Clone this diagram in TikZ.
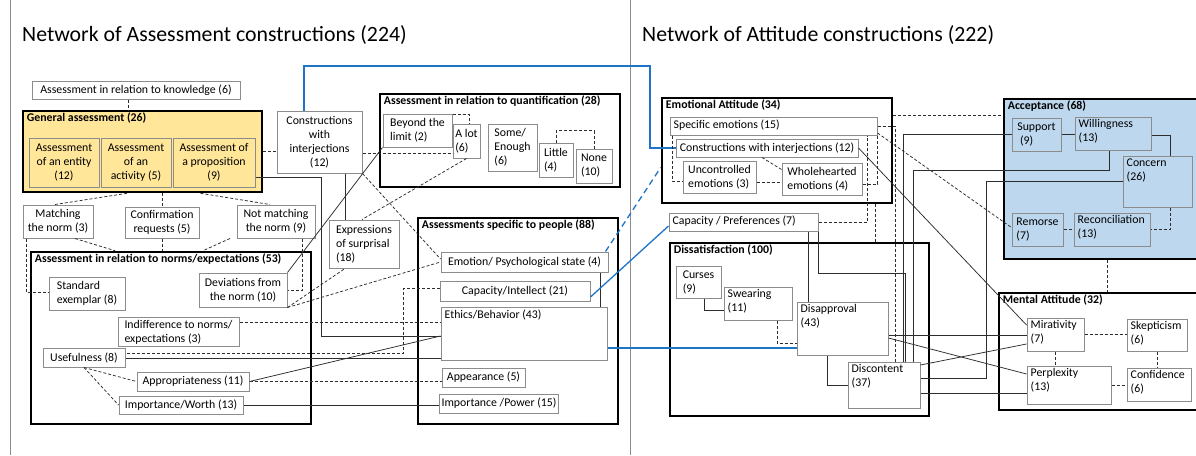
\documentclass[tikz,border=0pt]{standalone}
\usepackage{fontspec}
\setmainfont{Carlito}
\definecolor{boxgray}{RGB}{140,140,140}
\definecolor{lngray}{RGB}{45,45,45}
\definecolor{gold}{RGB}{255,230,153}
\definecolor{skyfill}{RGB}{189,215,238}
\definecolor{linkblue}{RGB}{30,117,200}
\newcommand\bxfont{\fontsize{11.8}{14}\selectfont}
\newcommand\ttlfont{\fontsize{21.8}{24}\selectfont}
\tikzset{
  bx/.style={draw=boxgray, line width=1pt, inner sep=2pt, align=center, font=\bxfont},
  lbx/.style={bx, align=left},
  grp/.style={draw=black, line width=2.6pt},
  tl/.style={label={[anchor=north west, inner xsep=4pt, inner ysep=3pt, align=left, font=\bxfont]north west:#1}},
  ttl/.style={label={[anchor=north west, inner xsep=5pt, inner ysep=3pt, font=\bxfont\bfseries]north west:#1}},
  dsh/.style={draw=lngray, line width=0.75pt, dash pattern=on 3pt off 2pt},
  sld/.style={draw=lngray, line width=0.75pt},
  blu/.style={draw=linkblue, line width=1.3pt},
  bludsh/.style={blu, dash pattern=on 6pt off 4pt},
}
\begin{document}
\begin{tikzpicture}[x=1pt,y=-1pt]
\clip (0,0) rectangle (1196,455);
\fill[white] (0,0) rectangle (1196,455);
\draw[boxgray, line width=1pt] (10,0) -- (10,455);
\draw[boxgray, line width=1pt] (630,0) -- (630,455);
\node[anchor=base west, inner sep=0pt, font=\ttlfont] (ttlA) at (22,41) {Network of Assessment constructions (224)};
\node[anchor=base west, inner sep=0pt, font=\ttlfont] (ttlB) at (642,41) {Network of Attitude constructions (222)};

% assessment side
\node[bx, minimum width=208, minimum height=18] (know) at (136,90) {Assessment in relation to knowledge (6)};
\node[grp, fill=gold, minimum width=239, minimum height=81, ttl={General assessment (26)}] (ga) at (142.5,151.5) {};
\node[bx, fill=gold, minimum width=70, minimum height=49] (ent) at (64,162.5) {Assessment\\of an entity\\(12)};
\node[bx, fill=gold, minimum width=70, minimum height=49] (act) at (136,162.5) {Assessment\\of an\\activity (5)};
\node[bx, fill=gold, minimum width=82, minimum height=49] (prop) at (214,162.5) {Assessment of\\a proposition\\(9)};
\node[bx, minimum width=85, minimum height=62] (cwi) at (319.5,142) {Constructions\\with\\interjections\\(12)};

\node[grp, minimum width=240, minimum height=93, ttl={Assessment in relation to quantification (28)}] (quant) at (500,140.5) {};
\node[lbx, minimum width=69, minimum height=33] (beyond) at (417.5,130.5) {Beyond the\\limit (2)};
\node[lbx, minimum width=27, minimum height=34] (alot) at (466.5,141) {A lot\\(6)};
\node[lbx, minimum width=49, minimum height=47] (some) at (512.5,147.5) {Some/\\Enough\\(6)};
\node[lbx, minimum width=34, minimum height=34] (little) at (556,160) {Little\\(4)};
\node[lbx, minimum width=36, minimum height=34] (none) at (594,166) {None\\(10)};

\node[bx, minimum width=70, minimum height=33] (match) at (58,221.5) {Matching\\the norm (3)};
\node[bx, minimum width=74, minimum height=31] (conf) at (162,222.5) {Confirmation\\requests (5)};
\node[bx, minimum width=78, minimum height=33] (notm) at (276,221.5) {Not matching\\the norm (9)};

\node[grp, minimum width=280, minimum height=172, ttl={Assessment in relation to norms/expectations (53)}] (norms) at (171,338) {};
\node[lbx, minimum width=76, minimum height=33] (std) at (87,293.5) {Standard\\exemplar (8)};
\node[bx, minimum width=88, minimum height=34] (dev) at (243,290) {Deviations from\\the norm (10)};
\node[lbx, minimum width=70, minimum height=48] (expr) at (364,244) {Expressions\\of surprisal\\(18)};
\node[lbx, minimum width=121, minimum height=28] (indiff) at (178.5,332) {Indifference to norms/\\expectations (3)};
\node[bx, minimum width=82, minimum height=19] (useful) at (84,357.5) {Usefulness (8)};
\node[bx, minimum width=112, minimum height=19] (approp) at (193,381.5) {Appropriateness (11)};
\node[bx, minimum width=124, minimum height=18] (impw) at (181,405) {Importance/Worth (13)};

\node[grp, minimum width=200, minimum height=206, ttl={Assessments specific to people (88)}] (asp) at (518,321) {};
\node[bx, minimum width=167, minimum height=20] (emo) at (524.5,262) {Emotion/ Psychological state (4)};
\node[bx, minimum width=150, minimum height=20] (capi) at (515,291) {Capacity/Intellect (21)};
\node[bx, minimum width=166, minimum height=53, tl={Ethics/Behavior (43)}] (eth) at (524,333.5) {};
\node[bx, minimum width=83, minimum height=19] (appear) at (483.5,377.5) {Appearance (5)};
\node[bx, minimum width=118, minimum height=19] (impp) at (499,403.5) {Importance /Power (15)};

% attitude side
\node[grp, minimum width=230, minimum height=105, ttl={Emotional Attitude (34)}] (ea) at (777,150.5) {};
\node[bx, minimum width=207, minimum height=18, tl={Specific emotions (15)}] (spec) at (773.5,126) {};
\node[bx, minimum width=182, minimum height=18] (cwi2) at (767,148) {Constructions with interjections (12)};
\node[lbx, minimum width=73, minimum height=32] (unc) at (719.5,177) {Uncontrolled\\emotions (3)};
\node[lbx, minimum width=80, minimum height=32] (whole) at (822,179) {Wholehearted\\emotions (4)};
\node[bx, minimum width=149, minimum height=18, tl={Capacity / Preferences (7)}] (capp) at (743.5,222) {};

\node[grp, fill=skyfill, minimum width=206, minimum height=160, ttl={Acceptance (68)}] (acc) at (1107,179) {};
\node[lbx, fill=skyfill, minimum width=49, minimum height=33] (sup) at (1036.5,134.5) {Support\\\ (9)};
\node[lbx, fill=skyfill, minimum width=76, minimum height=33, tl={Willingness\\(13)}] (will) at (1113,133.5) {};
\node[bx, fill=skyfill, minimum width=69, minimum height=51, tl={Concern\\(26)}] (conc) at (1157.5,181.5) {};
\node[lbx, fill=skyfill, minimum width=51, minimum height=33] (rem) at (1037.5,229.5) {Remorse\\(7)};
\node[bx, fill=skyfill, minimum width=76, minimum height=33, tl={Reconciliation\\(13)}] (rec) at (1112,229.5) {};

\node[grp, minimum width=259, minimum height=173, ttl={Dissatisfaction (100)}] (dis) at (799.5,329.5) {};
\node[lbx, minimum width=45, minimum height=32] (curs) at (698.5,282) {Curses\\(9)};
\node[bx, minimum width=68, minimum height=33, tl={Swearing\\(11)}] (swear) at (758,303.5) {};
\node[bx, minimum width=91, minimum height=53, tl={Disapproval\\(43)}] (disap) at (842.5,328.5) {};
\node[bx, minimum width=72, minimum height=46, tl={Discontent\\(37)}] (discon) at (884,385) {};

\node[grp, minimum width=211, minimum height=117, ttl={Mental Attitude (32)}] (ment) at (1104.5,351.5) {};
\node[bx, minimum width=57, minimum height=33, tl={Mirativity\\(7)}] (mir) at (1055.5,334.5) {};
\node[bx, minimum width=60, minimum height=32, tl={Skepticism\\(6)}] (skep) at (1157,335) {};
\node[bx, minimum width=84, minimum height=38, tl={Perplexity\\(13)}] (perp) at (1069,385) {};
\node[bx, minimum width=64, minimum height=33, tl={Confidence\\(6)}] (confi) at (1159,384.5) {};

% links on the assessment side
\draw[dsh] ([xshift=-8pt]know.south) -- ([xshift=-8pt]know.south |- ga.north);
\draw[dsh] (ga.east) -- (ga.east -| cwi.west);
\draw[dsh] ([yshift=-11pt]cwi.east) -- ([yshift=-11pt]cwi.east -| alot.west);
\draw[sld] ([yshift=-14.5pt]prop.east) -| ([xshift=-119pt,yshift=-2.5pt]eth.west) -- ([yshift=-2.5pt]eth.west);
\draw[sld] (beyond.south west) -- (dev.north east);
\draw[dsh] ([yshift=-1pt]beyond.north east) -| ([xshift=3pt]alot.north);
\draw[dsh] (little.north) -- ++(0,-12) -| (none.north);
\draw[dsh] (alot.south) -- ([xshift=-2pt]expr.north);
\draw[sld] ([xshift=25.5pt]cwi.south) -- ([xshift=25.5pt]cwi.south |- expr.north);
\draw[dsh] (cwi.south east) -- ([yshift=3pt]emo.west);
\draw[dsh] ([xshift=-15.5pt]ga.south) -- ([xshift=-3pt]match.north);
\draw[dsh] (conf.north |- ga.south) -- (conf.north);
\draw[dsh] ([xshift=58pt]ga.south) -- ([xshift=-6pt]notm.north);
\draw[dsh] ([xshift=17pt]match.south) -- ([xshift=-56pt]norms.north);
\draw[dsh] (conf.south) -- (conf.south |- norms.north);
\draw[dsh] ([xshift=-46pt]notm.south) -- ([xshift=32pt]norms.north);
\draw[dsh] ([xshift=-32pt]match.south) |- ([yshift=1.5pt]std.west);
\draw[dsh] ([xshift=26pt]notm.south) |- (dev.east);
\draw[dsh] (dev.south east) -- ([xshift=-19pt]expr.south);
\draw[dsh] (dev.south east) -- (emo.west);
\draw[dsh] ([yshift=10pt]indiff.east) -- ([yshift=10pt]indiff.east -| eth.west);
\draw[dsh] ([yshift=3pt]capi.west) -- ++(-36,0) |- ([yshift=4.5pt]useful.east);
\draw[sld] ([yshift=-0.5pt]useful.east) -- ([yshift=-0.5pt]useful.east -| eth.west);
\draw[dsh] (useful.south) -- (approp.west);
\draw[dsh] (useful.south) -- (impw.west);
\draw[sld] (approp.east) -- ([yshift=-2.5pt]eth.west);
\draw[dsh] (approp.east) -- (approp.east -| appear.west);
\draw[sld] (impw.east) -- (impw.east -| impp.west);
\draw[sld] ([xshift=75.5pt]emo.south) -- ([xshift=75.5pt]emo.south |- eth.north);

% links between the two networks
\draw[blu] ([xshift=-15.5pt]cwi.north) |- (650,66) |- (cwi2.west);
\draw[bludsh] ([xshift=-3pt]emo.north east) -- ([yshift=-17pt]ea.west);
\draw[blu] ([yshift=-6pt]capi.east) -- ([yshift=-4pt]capp.west);
\draw[blu] ([yshift=-14.5pt]eth.east) -- ([yshift=-14.5pt]eth.east -| disap.west);

% links on the attitude side
\draw[dsh] ([xshift=3pt]spec.south west) |- ([yshift=-4pt]unc.west);
\draw[dsh] ([xshift=-5pt]cwi2.south) -- ([yshift=-7pt]whole.north west);
\draw[dsh] ([yshift=-5pt]unc.east) -- ([yshift=-5pt]unc.east -| whole.west);
\draw[dsh] ([yshift=-5pt]whole.east) -| (spec.south east);
\draw[dsh] (spec.east) -| ([xshift=11pt]discon.north);
\draw[dsh] ([yshift=-19pt]ea.north east) -- ([yshift=-19pt]ea.north east -| acc.west);
\draw[dsh] ([yshift=-7pt]spec.east) -- ([yshift=2pt]rem.west);
\draw[sld] (cwi2.east) -- ([yshift=-7.5pt]mir.north west);
\draw[dsh] (capp.east) -| ([xshift=-10pt]spec.south east);
\draw[dsh] ([xshift=98pt]ea.south) -- ([xshift=98pt]ea.south |- dis.north);
\draw[sld] ([xshift=-10pt]capp.south east) -- ([xshift=-10pt]capp.south east |- disap.north);
\draw[sld] (capp.south east) -- ++(0,42) -| ([xshift=21pt]discon.north);
\draw[sld] (sup.west) -| ([xshift=19pt]discon.north);
\draw[sld] ([xshift=-4pt]will.south) -- ++(0,20) -| ([xshift=29pt]discon.north);
\draw[sld] (conc.west) -- ++(-136,0) |- ([yshift=7pt]discon.east);
\draw[sld] (sup.east) -- (sup.east -| will.west);
\draw[sld] ([yshift=-1.5pt]will.east) -| ([xshift=12.5pt]conc.north);
\draw[dsh] ([xshift=12.5pt]conc.south) |- (rec.east);
\draw[dsh] (rem.east) -- (rec.west);
\draw[dsh] (acc.south) -- (acc.south |- ment.north);
\draw[dsh] (mir.east) -- (mir.east -| skep.west);
\draw[dsh] (mir.south) -- (mir.south |- perp.north);
\draw[dsh] (skep.south) -- (skep.south |- confi.north);
\draw[dsh] (perp.east) -- (perp.east -| confi.west);
\draw[sld] ([xshift=5.5pt]curs.south) |- ([yshift=-6.5pt]swear.west);
\draw[dsh] ([xshift=19pt]swear.south) |- ([yshift=-14.5pt]disap.west);
\draw[sld] ([xshift=-15.5pt]disap.south) |- (discon.west);
\draw[sld] ([yshift=-6.5pt]disap.east) -- ([yshift=-6.5pt]disap.east -| mir.west);
\draw[sld] ([yshift=-9.5pt]disap.east) -- ([yshift=11pt]perp.west);
\draw[sld] ([yshift=20pt]discon.east) -- ([yshift=-9.5pt]mir.west);
\draw[sld] ([yshift=-8pt]discon.east) -- ([yshift=-8pt]discon.east -| perp.west);
\end{tikzpicture}
\end{document}
